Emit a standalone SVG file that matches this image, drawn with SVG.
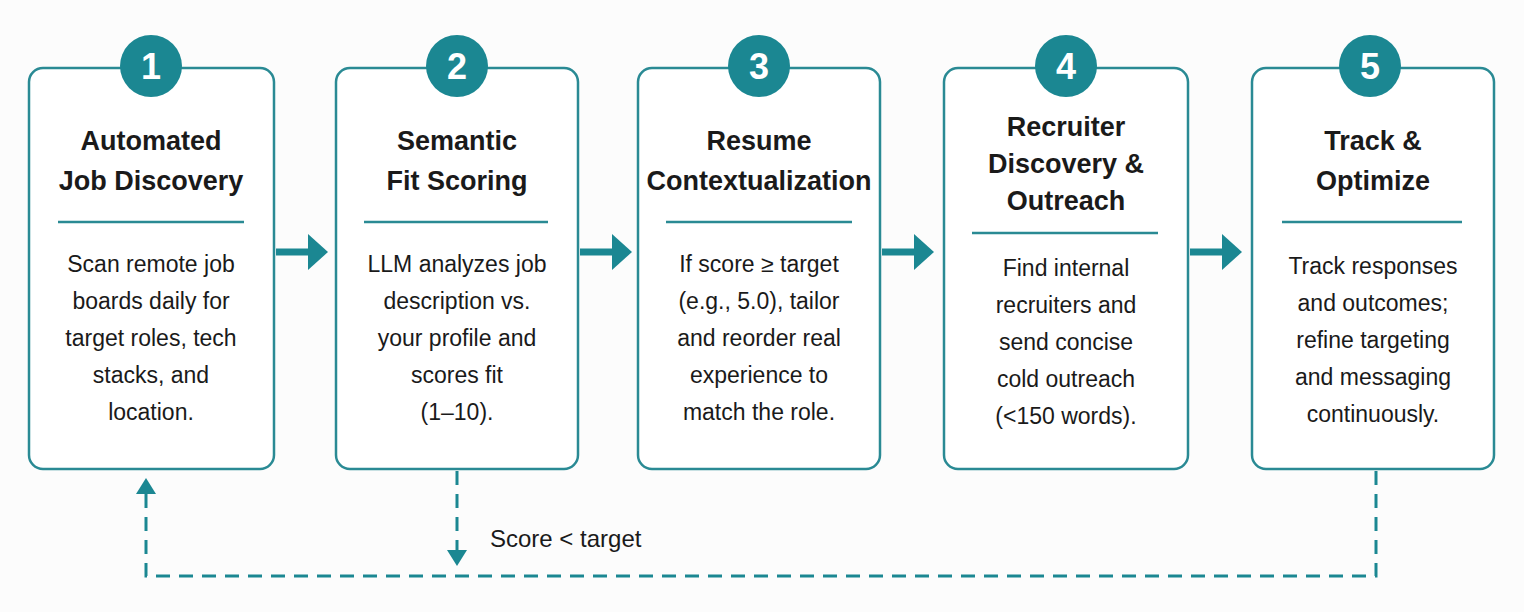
<svg xmlns="http://www.w3.org/2000/svg" width="1524" height="612" viewBox="0 0 1524 612">
<style>
.box{fill:#fff;stroke:#2a8a94;stroke-width:2.5}
.circ{fill:#1b8792}
.num{font-family:"Liberation Sans",Arial,sans-serif;font-weight:bold;font-size:36px;fill:#fff;text-anchor:middle}
.t{font-family:"Liberation Sans",Arial,sans-serif;font-weight:bold;font-size:27px;fill:#1a1a1a;text-anchor:middle}
.b{font-family:"Liberation Sans",Arial,sans-serif;font-size:23px;fill:#1a1a1a;text-anchor:middle}
.div{stroke:#2a8a94;stroke-width:2.5}
.arr{stroke:#1b8792;stroke-width:7;fill:none}
.dash{stroke:#1b8792;stroke-width:3;fill:none;stroke-dasharray:14 9}
.head{fill:#1b8792}
</style>
<rect width="1524" height="612" fill="#fcfcfc"/>
<g id="connectors">
<line class="arr" x1="276" y1="252" x2="312" y2="252"/><polygon class="head" points="308,234 328,252 308,270"/>
<line class="arr" x1="580" y1="252" x2="616" y2="252"/><polygon class="head" points="612,234 632,252 612,270"/>
<line class="arr" x1="882" y1="252" x2="918" y2="252"/><polygon class="head" points="914,234 934,252 914,270"/>
<line class="arr" x1="1190" y1="252" x2="1226" y2="252"/><polygon class="head" points="1222,234 1242,252 1222,270"/>
<line class="dash" x1="457" y1="471" x2="457" y2="552"/><polygon class="head" points="447,550 467,550 457,566"/>
<path class="dash" d="M1376,471 V576 H146 V494"/><polygon class="head" points="136,494 156,494 146,478"/>
<text x="490" y="547" font-family="Liberation Sans,Arial,sans-serif" font-size="24" fill="#1a1a1a">Score &lt; target</text>
</g>
<g id="n1">
<rect class="box" x="29" y="68" width="245" height="401" rx="14"/>
<circle class="circ" cx="151" cy="66" r="31"/><text class="num" x="151" y="79">1</text>
<text class="t" x="151" y="150">Automated</text><text class="t" x="151" y="190">Job Discovery</text>
<line class="div" x1="58" y1="222" x2="244" y2="222"/>
<text class="b"><tspan x="151" y="272">Scan remote job</tspan><tspan x="151" y="309">boards daily for</tspan><tspan x="151" y="346">target roles, tech</tspan><tspan x="151" y="383">stacks, and</tspan><tspan x="151" y="420">location.</tspan></text>
</g>
<g id="n2">
<rect class="box" x="336" y="68" width="242" height="401" rx="14"/>
<circle class="circ" cx="457" cy="66" r="31"/><text class="num" x="457" y="79">2</text>
<text class="t" x="457" y="150">Semantic</text><text class="t" x="457" y="190">Fit Scoring</text>
<line class="div" x1="364" y1="222" x2="548" y2="222"/>
<text class="b"><tspan x="457" y="272">LLM analyzes job</tspan><tspan x="457" y="309">description vs.</tspan><tspan x="457" y="346">your profile and</tspan><tspan x="457" y="383">scores fit</tspan><tspan x="457" y="420">(1–10).</tspan></text>
</g>
<g id="n3">
<rect class="box" x="638" y="68" width="242" height="401" rx="14"/>
<circle class="circ" cx="759" cy="66" r="31"/><text class="num" x="759" y="79">3</text>
<text class="t" x="759" y="150">Resume</text><text class="t" x="759" y="190">Contextualization</text>
<line class="div" x1="666" y1="222" x2="852" y2="222"/>
<text class="b"><tspan x="759" y="272">If score ≥ target</tspan><tspan x="759" y="309">(e.g., 5.0), tailor</tspan><tspan x="759" y="346">and reorder real</tspan><tspan x="759" y="383">experience to</tspan><tspan x="759" y="420">match the role.</tspan></text>
</g>
<g id="n4">
<rect class="box" x="944" y="68" width="244" height="401" rx="14"/>
<circle class="circ" cx="1066" cy="66" r="31"/><text class="num" x="1066" y="79">4</text>
<text class="t" x="1066" y="136">Recruiter</text><text class="t" x="1066" y="173">Discovery &amp;</text><text class="t" x="1066" y="210">Outreach</text>
<line class="div" x1="972" y1="233" x2="1158" y2="233"/>
<text class="b"><tspan x="1066" y="276">Find internal</tspan><tspan x="1066" y="313">recruiters and</tspan><tspan x="1066" y="350">send concise</tspan><tspan x="1066" y="387">cold outreach</tspan><tspan x="1066" y="424">(&lt;150 words).</tspan></text>
</g>
<g id="n5">
<rect class="box" x="1252" y="68" width="242" height="401" rx="14"/>
<circle class="circ" cx="1370" cy="66" r="31"/><text class="num" x="1370" y="79">5</text>
<text class="t" x="1373" y="150">Track &amp;</text><text class="t" x="1373" y="190">Optimize</text>
<line class="div" x1="1282" y1="222" x2="1462" y2="222"/>
<text class="b"><tspan x="1373" y="274">Track responses</tspan><tspan x="1373" y="311">and outcomes;</tspan><tspan x="1373" y="348">refine targeting</tspan><tspan x="1373" y="385">and messaging</tspan><tspan x="1373" y="422">continuously.</tspan></text>
</g>
</svg>
